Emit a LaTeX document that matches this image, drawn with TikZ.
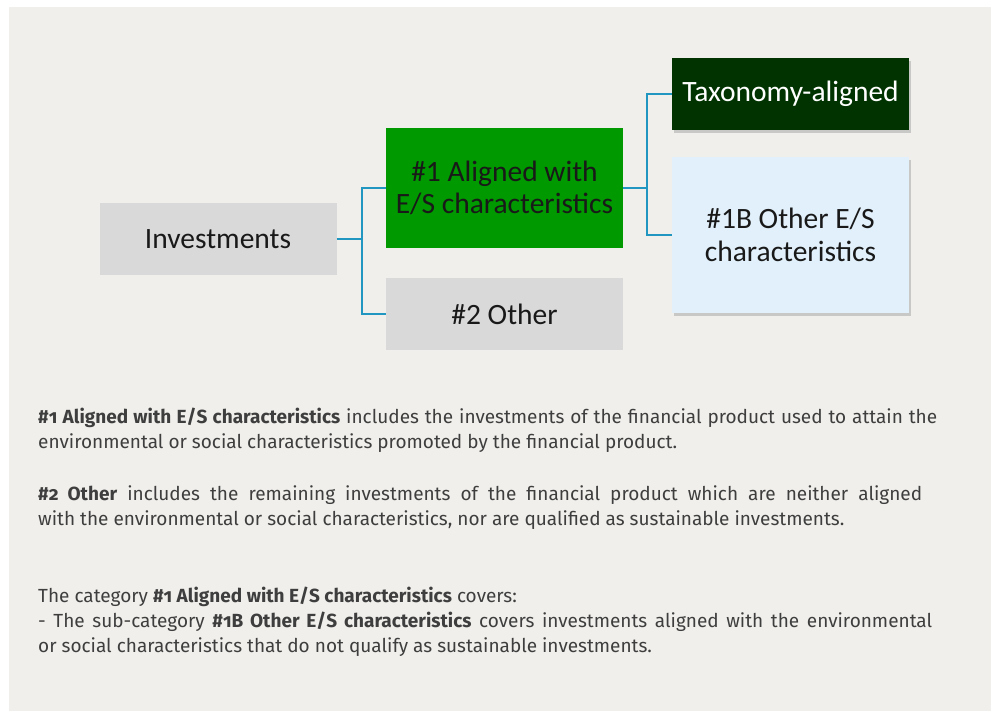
\documentclass[tikz,border=0pt]{standalone}
\usepackage{fontspec}
\setmainfont{Fira Sans}[Numbers=OldStyle]
\newfontfamily\boxfont{Carlito}
\usetikzlibrary{positioning}
\usetikzlibrary{shadows}
\definecolor{panelbg}{RGB}{240,239,235}
\definecolor{boxgrey}{RGB}{217,217,217}
\definecolor{aligngreen}{RGB}{0,153,0}
\definecolor{taxgreen}{RGB}{1,51,0}
\definecolor{otherblue}{RGB}{225,240,250}
\definecolor{linkblue}{RGB}{33,150,192}
\definecolor{bodygrey}{RGB}{62,62,62}
\newcommand{\fitline}[2]{\makebox[#1pt][s]{#2}}

\begin{document}
\begin{tikzpicture}[x=1pt,y=-1pt]
		\tikzset{
			boxnode/.style={minimum width=237pt,inner sep=0pt,align=center,text=black!90,
				font=\boxfont\fontsize{29.5}{32.5}\selectfont},
			shadowed/.style={drop shadow={shadow xshift=2pt,shadow yshift=-3pt,fill=black!40,opacity=.45}},
		}
		\tikzset{
			edge/.style={color=linkblue,line width=2pt},
		}
		\tikzset{
			bodytext/.style={anchor=north west,inner sep=0pt,align=left,text=bodygrey,
				font=\fontsize{19}{25}\selectfont},
		}
		
		% panel
		\useasboundingbox (0,0) rectangle (991,711);
		\fill[panelbg] (9,7) rectangle (991,711);
		
		\node[boxnode,fill=boxgrey,minimum height=72pt] (inv) at (218,239) {Investments};
		
		\node[boxnode,fill=aligngreen,minimum height=120pt] (es) at (504.5,188) {\#1 Aligned with\\E/S characteristics};
		\node[boxnode,fill=boxgrey,minimum height=72pt] (other) at (504.5,314) {\#2 Other};
		
		\node[boxnode,shadowed,fill=taxgreen,text=white,minimum height=72pt] (tax) at (790.5,94) {Taxonomy-aligned};
		\node[boxnode,shadowed,fill=otherblue,minimum height=156pt] (esother) at (790.5,235) {\#1B Other E/S\\characteristics};
		
		\coordinate (split1) at (362,239);
		\coordinate (split2) at (647,188);
		
		\draw[edge] (inv.east) -- (split1);
		\draw[edge] (es.west) -| (split1) |- (other.west);
		\draw[edge] (es.east) -- (split2);
		\draw[edge] (tax.west) -| (split2) |- (esother.west);
		
		% notes below
		\node[bodytext] (note1) at (38,405.5) {\strut\fitline{899}{\textbf{\#1 Aligned with E/S characteristics} includes the investments of the financial product used to attain the}\\
			environmental or social characteristics promoted by the financial product.};
		\node[bodytext] (note2) at (38,482.5) {\strut\fitline{884}{\textbf{\#2 Other} includes the remaining investments of the financial product which are neither aligned}\\
			with the environmental or social characteristics, nor are qualified as sustainable investments.};
		\node[bodytext] (note3) at (38,584.5) {\strut The category \textbf{\#1 Aligned with E/S characteristics} covers:\\
			\fitline{894}{- The sub-category \textbf{\#1B Other E/S characteristics} covers investments aligned with the environmental}\\
			or social characteristics that do not qualify as sustainable investments.};
	\end{tikzpicture}
\end{document}
